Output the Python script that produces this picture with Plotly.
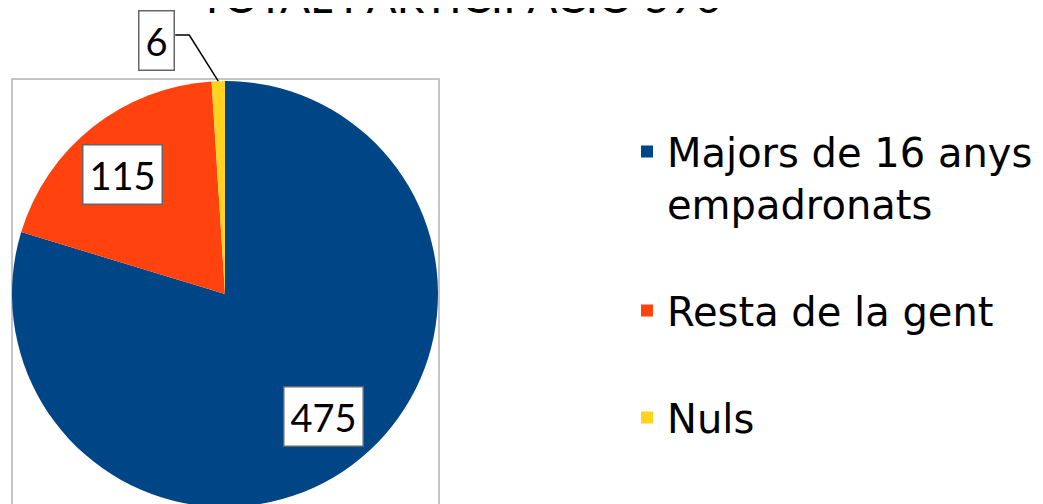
import math
import plotly.graph_objects as go

labels = ["Majors de 16 anys<br>empadronats<br> ", "Resta de la gent<br> ", "Nuls"]
values = [475, 115, 6]
colors = ["#004586", "#ff420e", "#ffd320"]
title_text = "TOTAL PARTICIPACIÓ 596"

W, H = 1043, 520
OFF = 8  # page offset of the figure (body margin)
LABEL_FONT = "Lato"
LEGEND_FONT = "DejaVu Sans"

def px(x):  # page pixel -> paper
    return (x - OFF) / W

def py(y):
    return 1 - (y - OFF) / H

# pie geometry (page pixels)
cx, cy, R = 225, 294, 213

fig = go.Figure()
fig.add_trace(go.Pie(
    labels=labels, values=values, sort=False, direction="clockwise", rotation=0,
    marker=dict(colors=colors, line=dict(width=0)),
    textinfo="none", hoverinfo="label+value",
    domain=dict(x=[px(cx - R), px(cx + R)], y=[py(cy + R), py(cy - R)]),
))

# data labels placed along each slice's mid-angle
total = sum(values)
cum = 0
annotations = []
shapes = []
box = dict(bgcolor="white", bordercolor="#666666", borderwidth=1.5, borderpad=6,
           font=dict(family=LABEL_FONT, size=38, color="black"))
for v in values:
    a0 = cum / total * 360
    cum += v
    a1 = cum / total * 360
    mid = math.radians((a0 + a1) / 2)
    if v / total > 0.05:
        lx = cx + 0.74 * R * math.sin(mid - 0.04)
        ly = cy - 0.74 * R * math.cos(mid - 0.04)
        annotations.append(dict(
            x=px(lx), y=py(ly), xref="paper", yref="paper", text=str(v), showarrow=False,
            xanchor="center", yanchor="middle", **box))
    else:
        # small slice: label outside with a bent leader line to the slice edge
        ex = cx + R * math.sin(mid)
        ey = cy - R * math.cos(mid)
        tx, ty = ex - 62, ey - 41         # label centre
        kx, ky = tx + 33, ty - 5          # knee of leader line
        annotations.append(dict(
            x=px(tx), y=py(ty), xref="paper", yref="paper", text=str(v), showarrow=False,
            xanchor="center", yanchor="middle", **box))
        shapes.append(dict(
            type="path", xref="paper", yref="paper",
            path=f"M {px(tx + 19)},{py(ky)} L {px(kx)},{py(ky)} L {px(ex)},{py(ey)}",
            line=dict(color="black", width=1.5)))

annotations.append(dict(
    x=px(460), y=py(24), xref="paper", yref="paper", text=title_text, showarrow=False,
    xanchor="center", yanchor="bottom",
    font=dict(family=LABEL_FONT, size=44, color="black"),
))

shapes.insert(0, dict(type="rect", xref="paper", yref="paper",
                      x0=px(12), x1=px(439), y0=py(OFF + H + 5), y1=py(79),
                      line=dict(color="#b3b3b3", width=1.5), layer="below"))

fig.update_layout(
    width=W, height=H,
    margin=dict(l=0, r=0, t=0, b=0),
    paper_bgcolor="white", plot_bgcolor="white",
    showlegend=True,
    legend=dict(
        x=px(627), y=py(119), xanchor="left", yanchor="top",
        font=dict(family=LEGEND_FONT, size=40, color="black"),
        valign="top", itemclick=False, itemdoubleclick=False,
    ),
    annotations=annotations,
    shapes=shapes,
)

fig.write_html("out.html")
